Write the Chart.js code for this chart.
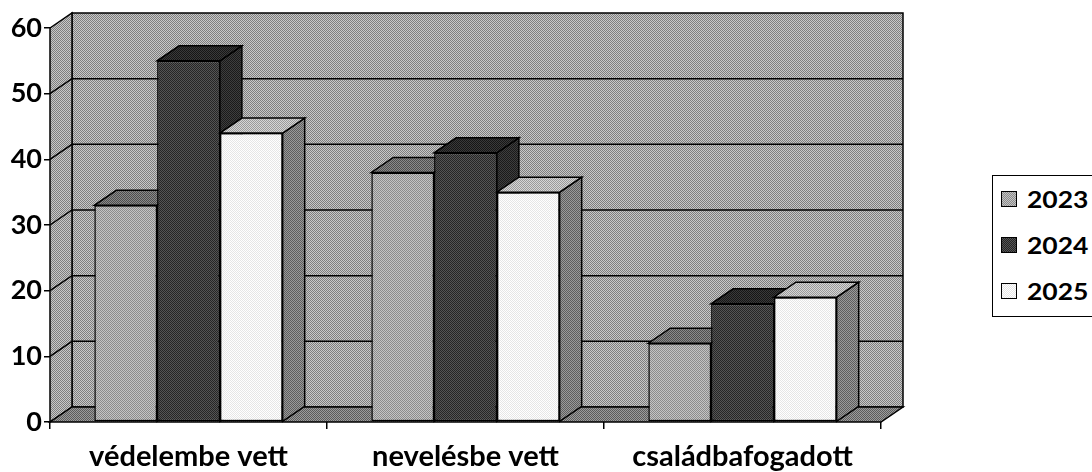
<!DOCTYPE html>
<html>
<head>
<meta charset="utf-8">
<script src="https://cdn.jsdelivr.net/npm/chart.js@4.4.0/dist/chart.umd.min.js"></script>
<style>
  html, body { margin: 0; padding: 0; background: #fff; }
  #wrap { position: relative; width: 1092px; height: 472px; overflow: hidden; }
  #legend {
    position: absolute; left: 992px; top: 175px; width: 130px; height: 140px;
    border: 1.5px solid #000; background: #fff;
    font: bold 23px Lato, 'Open Sans', sans-serif; color: #000;
    padding-top: 0;
  }
  .item { display: flex; align-items: center; height: 46px; padding-left: 8px; }
  .swatch { width: 14px; height: 14px; border: 1px solid #000; margin-right: 10px; }
  .label { display: inline-block; transform: scaleX(1.15); transform-origin: left center; }
</style>
</head>
<body>
<div id="wrap">
  <canvas id="chart" width="1092" height="472"></canvas>
  <div id="legend"></div>
</div>
<script>
// data
const categories = ['védelembe vett', 'nevelésbe vett', 'családbafogadott'];
const years = ['2023', '2024', '2025'];
const values2023 = [33, 38, 12];
const values2024 = [55, 41, 18];
const values2025 = [44, 35, 19];
const yMax = 60;
const yStep = 10;

// styles (two greys each, dithered like the scan)
const frontTones = [['#c4c4c4', '#8c8c8c'], ['#555555', '#262626'], ['#ffffff', '#e6e6e6']];
const topTones = [['#8a8a8a', '#4e4e4e'], ['#3a3a3a', '#161616'], ['#d6d6d6', '#9a9a9a']];
const sideTones = [['#929292', '#5a5a5a'], ['#3e3e3e', '#1a1a1a'], ['#9a9a9a', '#5e5e5e']];
const wallTones = ['#c8c8c8', '#7e7e7e'];
const floorTones = ['#9c9c9c', '#5c5c5c'];
const depthX = 22;
const depthY = 15;

function dither(tones) {
  const c = document.createElement('canvas');
  c.width = 2;
  c.height = 2;
  const g = c.getContext('2d');
  g.fillStyle = tones[0];
  g.fillRect(0, 0, 2, 2);
  g.fillStyle = tones[1];
  g.fillRect(0, 0, 1, 1);
  g.fillRect(1, 1, 1, 1);
  return c.getContext('2d').createPattern(c, 'repeat');
}

function poly(ctx, pts, fill) {
  ctx.beginPath();
  ctx.moveTo(pts[0][0], pts[0][1]);
  pts.slice(1).forEach(p => ctx.lineTo(p[0], p[1]));
  ctx.closePath();
  ctx.fillStyle = fill;
  ctx.fill();
  ctx.stroke();
}

// back wall, side wall, floor and wall gridlines
const wallPlugin = {
  id: 'wall3d',
  beforeDraw(chart) {
    const { ctx, chartArea: a, scales: { y } } = chart;
    const wall = dither(wallTones);
    ctx.save();
    ctx.strokeStyle = '#000';
    ctx.lineWidth = 1.5;
    poly(ctx, [[a.left + depthX, a.top - depthY], [a.right + depthX, a.top - depthY],
      [a.right + depthX, a.bottom - depthY], [a.left + depthX, a.bottom - depthY]], wall);
    poly(ctx, [[a.left, a.top], [a.left + depthX, a.top - depthY],
      [a.left + depthX, a.bottom - depthY], [a.left, a.bottom]], wall);
    poly(ctx, [[a.left, a.bottom], [a.right, a.bottom],
      [a.right + depthX, a.bottom - depthY], [a.left + depthX, a.bottom - depthY]], dither(floorTones));
    y.ticks.forEach(t => {
      if (t.value <= 0 || t.value >= yMax) return;
      const py = y.getPixelForValue(t.value);
      ctx.beginPath();
      ctx.moveTo(a.left, py);
      ctx.lineTo(a.left + depthX, py - depthY);
      ctx.lineTo(a.right + depthX, py - depthY);
      ctx.stroke();
    });
    ctx.restore();
  },
  // top and side faces of every bar, left to right
  beforeDatasetsDraw(chart) {
    const ctx = chart.ctx;
    ctx.save();
    ctx.strokeStyle = '#000';
    ctx.lineWidth = 1.5;
    categories.forEach((c, i) => {
      chart.data.datasets.forEach((ds, d) => {
        const bar = chart.getDatasetMeta(d).data[i];
        const { x, y, base, width } = bar.getProps(['x', 'y', 'base', 'width'], true);
        const l = x - width / 2;
        const r = x + width / 2;
        poly(ctx, [[r, y], [r + depthX, y - depthY], [r + depthX, base - depthY], [r, base]], dither(sideTones[d]));
        poly(ctx, [[l, y], [r, y], [r + depthX, y - depthY], [l + depthX, y - depthY]], dither(topTones[d]));
      });
    });
    ctx.restore();
  }
};

const seriesValues = [values2023, values2024, values2025];

const chart = new Chart(document.querySelector('#chart'), {
  type: 'bar',
  data: {
    labels: categories,
    datasets: years.map((year, i) => ({
      label: year,
      data: seriesValues[i],
      backgroundColor: dither(frontTones[i]),
      borderColor: '#000',
      borderWidth: 1.5,
      borderSkipped: false,
      categoryPercentage: 0.68,
      barPercentage: 1.0
    }))
  },
  options: {
    responsive: false,
    animation: false,
    layout: { padding: { top: 28, right: 211, bottom: 0, left: 0 } },
    plugins: {
      legend: { display: false },
      tooltip: { enabled: false }
    },
    scales: {
      x: {
        grid: { offset: true, drawOnChartArea: false, drawTicks: true, tickLength: 7, tickColor: '#000', lineWidth: 1.5 },
        border: { display: false },
        ticks: { color: '#000', padding: 10, font: { family: 'Lato', weight: 'bold', size: 29 } },
        afterFit: scale => { scale.height = 50; }
      },
      y: {
        min: 0,
        max: yMax,
        grid: { drawOnChartArea: false, drawTicks: true, tickLength: 6, tickColor: '#000', lineWidth: 1.5 },
        border: { display: false },
        ticks: { stepSize: yStep, color: '#000', padding: 2, font: { family: 'Lato', weight: 'bold', size: 27 } },
        afterFit: scale => { scale.width = 50; }
      }
    }
  },
  plugins: [wallPlugin]
});

// legend box
const legend = document.querySelector('#legend');
years.forEach((year, i) => {
  const [a, b] = frontTones[i];
  legend.innerHTML += `<div class="item"><span class="swatch" style="background:repeating-conic-gradient(${b} 0 25%, ${a} 0 50%) 0 0/2px 2px"></span><span class="label">${year}</span></div>`;
});
</script>
</body>
</html>
